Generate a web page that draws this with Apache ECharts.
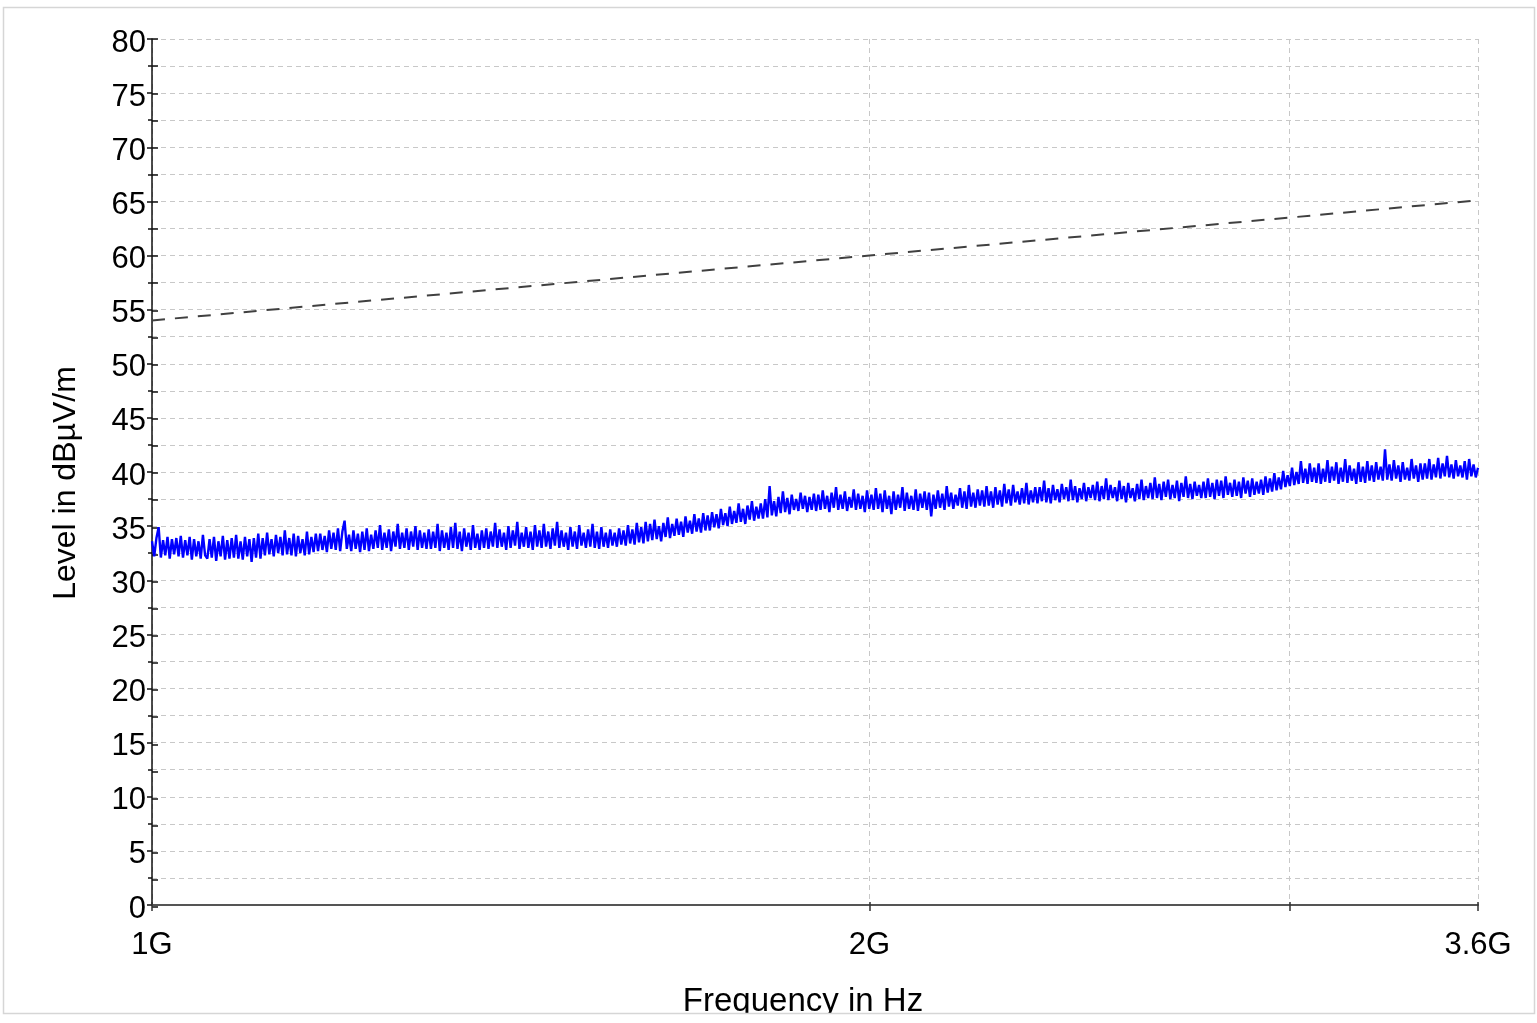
<!DOCTYPE html>
<html>
<head>
<meta charset="utf-8">
<script src="https://cdn.jsdelivr.net/npm/echarts@6/dist/echarts.min.js"></script>
<style>
html,body{margin:0;padding:0;background:#fff;}
#chart{width:1537px;height:1023px;}
</style>
</head>
<body>
<div id="chart"></div>
<script>
// Sweep definition (Hz)
var sweepStart = 1e9;
var sweepStop = 3.6e9;

var levels = [
33.6,32.2,33.9,34.9,32.1,33.7,32.3,34.0,32.0,33.8,32.4,33.9,32.2,34.1,32.1,33.7,32.3,34.0,31.9,33.8,32.2,33.6,32.0,34.2,32.3,
32.0,33.8,32.1,34.0,31.8,33.6,32.2,34.1,31.9,33.7,32.0,33.9,32.1,34.2,32.0,33.6,31.9,34.0,32.2,33.8,31.7,33.9,32.1,34.3,32.0,
33.9,32.3,34.4,32.4,33.8,32.2,34.2,32.5,34.0,32.3,34.6,32.4,33.9,32.3,34.3,32.2,34.1,32.5,33.8,32.3,34.5,32.4,34.0,32.6,34.3,
32.7,34.3,32.8,34.1,32.6,34.6,32.9,34.4,32.8,34.8,32.7,34.5,35.5,32.9,34.2,32.7,34.6,32.9,34.3,32.6,34.5,32.8,34.8,32.7,34.2,
32.9,34.6,33.0,35.1,32.8,34.4,33.0,34.7,32.7,34.5,33.1,35.2,32.9,34.4,33.0,34.8,32.8,34.5,33.1,35.0,32.8,34.6,33.0,34.4,32.9,
34.7,32.9,34.5,33.0,35.2,32.7,34.6,33.0,34.4,32.8,34.9,33.0,35.3,32.9,34.5,32.7,34.8,33.1,34.4,32.8,35.1,33.0,34.3,32.8,34.6,
33.0,34.8,32.9,34.5,33.1,35.3,33.0,34.7,33.1,34.4,32.8,35.0,33.0,34.6,33.2,35.4,32.9,34.4,33.1,34.9,33.0,34.5,32.8,35.1,33.1,
34.6,33.0,35.2,33.1,34.5,32.9,34.8,33.2,35.4,33.0,34.6,33.1,34.4,32.8,34.9,33.1,34.5,32.9,35.1,33.2,34.4,33.0,34.7,33.1,35.2,
33.0,34.5,32.9,34.9,33.1,34.4,33.0,34.7,33.2,34.4,33.1,34.8,33.3,34.6,33.2,35.1,33.4,34.7,33.3,35.3,33.5,34.9,33.4,35.4,33.6,
35.2,33.7,35.6,33.8,35.0,33.6,35.3,34.0,35.8,33.9,35.2,34.1,35.7,34.2,35.4,34.0,35.9,34.4,35.5,34.3,36.1,34.5,35.7,34.4,36.2,
34.6,36.0,34.6,36.3,34.9,36.1,34.8,36.6,35.1,36.2,35.0,36.8,35.2,36.4,35.3,37.1,35.4,36.6,35.2,36.9,35.6,37.3,35.5,36.8,35.7,
37.1,35.7,37.5,35.8,38.7,36.0,37.3,35.9,37.7,36.2,38.2,36.3,37.6,36.1,37.9,36.5,37.5,36.4,38.1,36.6,37.8,36.3,37.7,36.5,38.0,
36.4,37.9,36.5,38.3,36.6,37.8,36.3,38.1,36.7,38.6,36.5,37.9,36.6,38.2,36.4,37.7,36.7,38.4,36.5,38.0,36.6,37.8,36.3,38.3,36.6,
37.9,36.5,38.5,36.6,38.0,36.3,38.3,36.6,37.8,36.1,38.2,36.5,37.9,36.7,38.6,36.4,38.1,36.6,37.8,36.5,38.4,36.4,38.0,36.7,38.2,
36.5,38.1,35.9,37.9,36.6,38.3,36.7,38.0,36.5,38.7,36.8,38.1,36.6,37.9,36.9,38.5,36.7,38.2,36.6,38.8,36.8,38.1,36.7,38.4,36.9,
38.3,36.8,38.7,36.9,38.2,36.7,38.6,37.0,38.3,36.8,38.9,37.1,38.4,36.9,38.8,37.2,38.2,37.0,38.5,37.1,39.0,37.0,38.3,37.2,38.6,
37.1,38.6,37.3,39.2,37.2,38.5,37.1,38.8,37.4,38.4,37.2,38.9,37.5,38.6,37.3,39.3,37.4,38.7,37.2,38.5,37.5,39.0,37.3,38.6,37.6,
38.8,37.4,39.1,37.3,38.7,37.5,39.4,37.4,38.8,37.6,38.6,37.3,39.2,37.5,38.7,37.2,39.0,37.6,38.5,37.3,38.9,37.5,39.3,37.4,38.7,
37.6,39.0,37.5,39.5,37.6,38.9,37.4,39.1,37.7,39.3,37.5,38.8,37.6,39.2,37.3,39.0,37.7,39.6,37.6,38.9,37.5,39.1,37.8,38.8,37.6,
39.1,37.6,39.4,37.7,39.0,37.5,39.3,37.8,39.2,37.6,39.6,37.9,39.0,37.7,39.3,37.8,39.1,37.6,39.5,38.0,39.2,37.7,39.4,37.9,39.1,
38.0,39.3,37.9,39.6,38.1,39.4,38.2,39.9,38.3,39.5,38.4,40.1,38.6,39.7,38.7,40.4,38.8,40.0,38.9,41.0,39.0,40.3,38.9,40.8,39.1,
40.4,39.0,40.8,38.9,40.3,39.1,41.1,39.0,40.5,39.2,40.9,38.9,40.4,39.1,41.2,39.0,40.6,39.2,40.3,38.9,40.9,39.1,40.5,39.0,41.0,
39.2,40.6,39.1,40.9,39.3,40.5,39.2,42.1,39.3,40.7,39.2,41.1,39.4,40.6,39.1,40.9,39.3,40.4,39.2,41.2,39.4,40.6,39.1,40.8,39.3,
40.8,39.4,41.2,39.3,40.7,39.5,41.3,39.4,40.8,39.6,41.5,39.5,40.7,39.4,41.1,39.6,40.6,39.5,41.0,39.3,41.2,39.6,40.7,39.5,40.4
];

// Limit line (dBµV/m) at given frequencies
var limitFreqs = [1e9, 2e9, 3e9, 3.6e9];
var limitLevels = [54, 60, 63.5, 65.1];

// Axis ticks
var xTickValues = [1e9, 2e9, 3e9, 3.6e9];
var xLabelValues = [1e9, 2e9, 3.6e9];
var yMin = 0, yMax = 80, yStep = 5;

// sweep points are log-spaced between start and stop
var N = levels.length;
var measured = levels.map(function (v, i) {
  return [sweepStart * Math.pow(sweepStop / sweepStart, i / (N - 1)), v];
});
var limit = limitFreqs.map(function (f, i) { return [f, limitLevels[i]]; });

var FONT = 'Liberation Sans, Arial, sans-serif';
var gridPos = {left: 152, right: 59, top: 39, bottom: 116};

function xAxisBase(gi) {
  return {
    type: 'log', logBase: 10, gridIndex: gi, min: sweepStart, max: sweepStop,
    position: 'bottom'
  };
}
function yAxisBase(gi) {
  return {type: 'value', gridIndex: gi, min: yMin, max: yMax, interval: yStep, position: 'left'};
}

var chart = echarts.init(document.getElementById('chart'), null, {renderer: 'canvas'});
chart.setOption({
  animation: false,
  backgroundColor: '#fff',
  textStyle: {fontFamily: FONT},
  grid: [Object.assign({}, gridPos), Object.assign({}, gridPos)],
  xAxis: [
    Object.assign(xAxisBase(0), {
      name: 'Frequency in Hz', nameLocation: 'middle', nameGap: 80,
      nameTextStyle: {fontSize: 33, color: '#000', fontFamily: FONT, padding: [0, 24, 0, 0]},
      axisLine: {onZero: false, lineStyle: {color: '#555', width: 2}},
      axisTick: {show: true, inside: false, length: 6, customValues: xTickValues, lineStyle: {color: '#333', width: 1.5}},
      axisLabel: {show: true, customValues: xLabelValues, margin: 25, fontSize: 31, color: '#000', fontFamily: FONT,
        formatter: function (v) { var k = Math.round(v / 1e8) / 10; return k + 'G'; }},
      splitLine: {show: true, lineStyle: {color: '#c8c8c8', type: [5, 4], width: 1}},
      minorTick: {show: false}, minorSplitLine: {show: false}
    }),
    Object.assign(xAxisBase(1), {
      axisLine: {show: false, onZero: false},
      axisTick: {show: true, inside: true, length: 5, customValues: xTickValues, lineStyle: {color: '#333', width: 1.5}},
      axisLabel: {show: false}, splitLine: {show: false}
    })
  ],
  yAxis: [
    Object.assign(yAxisBase(0), {
      name: 'Level in dBµV/m', nameLocation: 'middle', nameGap: 70, nameRotate: 90,
      nameTextStyle: {fontSize: 32, color: '#000', fontFamily: FONT, padding: [0, 22, 0, 0]},
      axisLine: {show: true, onZero: false, lineStyle: {color: '#111', width: 1.5}},
      axisTick: {show: true, inside: false, length: 5, lineStyle: {color: '#111', width: 1.5}},
      minorTick: {show: true, splitNumber: 2, length: 4, lineStyle: {color: '#111', width: 1.5}},
      axisLabel: {margin: 6, fontSize: 31, color: '#000', fontFamily: FONT, verticalAlign: 'top', lineHeight: 8},
      splitLine: {show: true, lineStyle: {color: '#c8c8c8', type: [5, 4], width: 1}},
      minorSplitLine: {show: true, lineStyle: {color: '#c8c8c8', type: [5, 4], width: 1}}
    }),
    Object.assign(yAxisBase(1), {
      axisLine: {show: false, onZero: false},
      axisTick: {show: true, inside: true, length: 6, lineStyle: {color: '#111', width: 1.5}},
      minorTick: {show: true, splitNumber: 2, length: 6, lineStyle: {color: '#111', width: 1.5}},
      axisLabel: {show: false}, splitLine: {show: false}, minorSplitLine: {show: false}
    })
  ],
  series: [
    {
      type: 'line', xAxisIndex: 0, yAxisIndex: 0, data: limit, symbol: 'none', silent: true,
      lineStyle: {color: '#404040', width: 2, type: [13, 10]}, z: 3
    },
    {
      type: 'line', xAxisIndex: 0, yAxisIndex: 0, data: measured, symbol: 'none', silent: true,
      lineStyle: {color: '#0000ff', width: 2.4}, z: 4
    }
  ],
  graphic: [
    {type: 'rect', z: 200, silent: true, shape: {x: 0, y: 1014, width: 1537, height: 9}, style: {fill: '#fff'}},
    {type: 'rect', z: 201, silent: true, shape: {x: 3.5, y: 7.5, width: 1531, height: 1006}, style: {fill: 'none', stroke: '#d6d6d6', lineWidth: 1.5}}
  ]
});
</script>
</body>
</html>
